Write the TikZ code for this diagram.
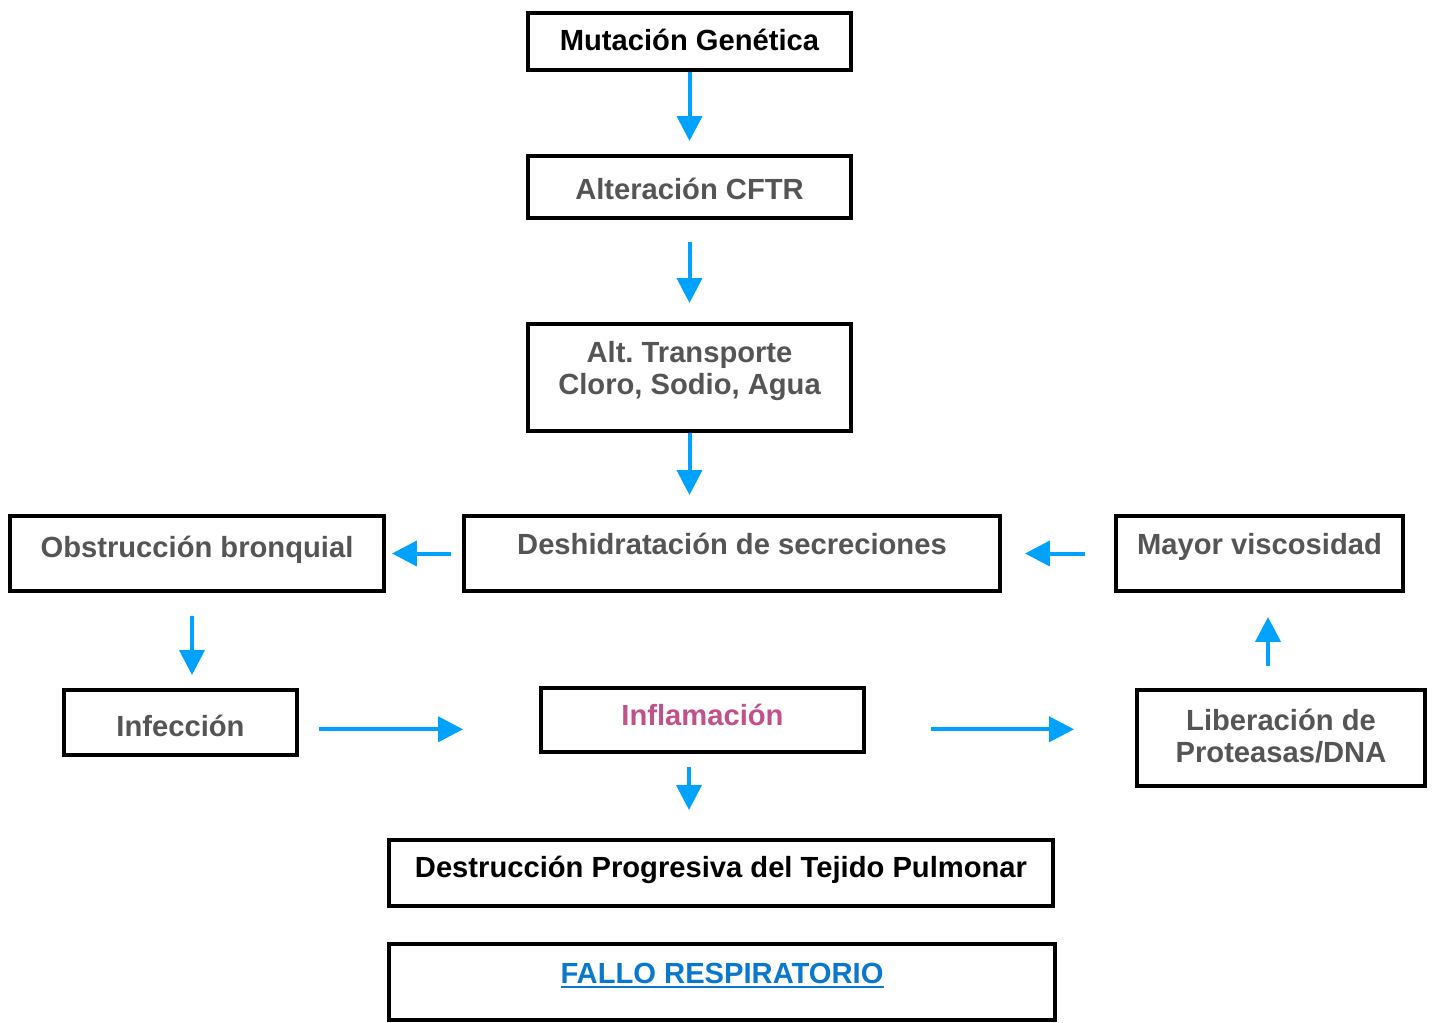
\documentclass[tikz,border=0pt]{standalone}
\usepackage{fontspec}
\setmainfont{Liberation Sans}
\usetikzlibrary{arrows.meta,calc}
\definecolor{txtgray}{HTML}{555555}
\definecolor{flecha}{HTML}{00A2FF}
\definecolor{rosa}{HTML}{C2508A}
\definecolor{enlace}{HTML}{0A78CC}
\newcommand\subrayado[1]{%
  \setbox0\hbox{#1}\rlap{\color{enlace}\rule[-2.6pt]{\wd0}{1.3pt}}\box0%
}
\frenchspacing
\tikzset{%
  >={Triangle[width=0.5cm,length=0.5cm]},
  caja/.style={draw,line width=0.08cm,inner sep=0pt,text=txtgray,
    font=\bfseries\fontsize{16.6}{18}\selectfont,align=center,
    text height=11.9pt,text depth=0pt},%
  lift/.style={text depth=#1},%
  conector/.style={->,draw=flecha,fill=flecha,line width=0.08cm}%
}

\begin{document}
\begin{tikzpicture}[x=0.02cm,y=-0.02cm]
	%% page frame
	\useasboundingbox (0,0) rectangle (1433,1023);
	
	%% central column
	\node[caja,text=black,lift=1.7pt,minimum width=6.46cm,minimum height=1.14cm] (mut) at (689.5,41.5) {Mutación Genética};
	\node[caja,text height=14.2pt,minimum width=6.46cm,minimum height=1.24cm] (alt) at (689.5,187) {Alteración CFTR};
	\node[caja,text height=19.1pt,minimum width=6.46cm,minimum height=2.14cm] (trans) at (689.5,377.5) {Alt. Transporte\\Cloro, Sodio, Agua};
	\node[caja,lift=10.8pt,minimum width=10.72cm,minimum height=1.5cm] (desh) at (732,553.5) {Deshidratación de secreciones};
	
	%% side boxes
	\node[caja,lift=7.4pt,minimum width=7.48cm,minimum height=1.5cm] (obstr) at (197,553.5) {Obstrucción bronquial};
	\node[caja,lift=10.8pt,minimum width=5.74cm,minimum height=1.5cm] (mayor) at (1259.5,553.5) {Mayor viscosidad};
	\node[caja,text height=15.9pt,minimum width=4.66cm,minimum height=1.3cm] (infec) at (180.5,722.5) {Infección};
	\node[caja,text=rosa,lift=5.1pt,minimum width=6.46cm,minimum height=1.28cm] (inflam) at (702.5,720) {Inflamación};
	\node[caja,text height=27.7pt,minimum width=5.76cm,minimum height=1.92cm] (liber) at (1281,738) {Liberación de\\Proteasas/DNA};
	
	%% bottom
	\node[caja,text=black,lift=6.8pt,minimum width=13.28cm,minimum height=1.32cm] (destr) at (721,873) {Destrucción Progresiva del Tejido Pulmonar};
	\node[caja,text=enlace,lift=10.2pt,minimum width=13.34cm,minimum height=1.52cm] (fallo) at (722,982) {\subrayado{FALLO RESPIRATORIO}};
	
	%% arrows
	\draw[conector,shorten >=0.26cm] (mut.south) -- (alt.north);
	\draw[conector,shorten <=0.44cm,shorten >=0.38cm] (alt.south) -- (trans.north);
	\draw[conector,shorten >=0.38cm] (trans.south) -- (trans.south |- desh.north);
	\draw[conector,shorten <=0.22cm,shorten >=0.12cm] (desh.west) -- (obstr.east);
	\draw[conector,shorten <=0.58cm,shorten >=0.46cm] (mayor.west) -- (desh.east);
	\draw[conector,shorten <=0.46cm,shorten >=0.26cm] ([xshift=-0.1cm]obstr.south) -- ([xshift=-0.1cm]obstr.south |- infec.north);
	\draw[conector,shorten <=0.4cm,shorten >=1.52cm] ([yshift=-0.136cm]infec.east) -- ([yshift=-0.136cm]infec.east -| inflam.west);
	\draw[conector,shorten <=1.3cm,shorten >=1.22cm] ([yshift=-0.186cm]inflam.east) -- ([yshift=-0.186cm]inflam.east -| liber.west);
	\draw[conector,shorten <=0.44cm,shorten >=0.48cm] ([xshift=-0.26cm]liber.north) -- ([xshift=-0.26cm]liber.north |- mayor.south);
	\draw[conector,shorten <=0.26cm,shorten >=0.56cm] ([xshift=-0.27cm]inflam.south) -- ([xshift=-0.27cm]inflam.south |- destr.north);
	
\end{tikzpicture}
\end{document}
